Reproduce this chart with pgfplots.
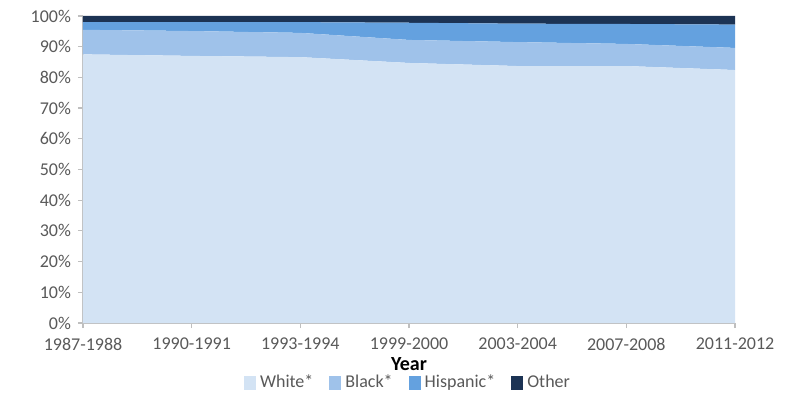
\documentclass[border=0pt]{standalone}
\usepackage{pgfplots}
\pgfplotsset{compat=1.18}
\usepackage{fontspec}
\setmainfont{Carlito}
\definecolor{cwhite}{HTML}{D3E3F4}
\definecolor{cblack}{HTML}{9FC2EA}
\definecolor{chisp}{HTML}{64A1DF}
\definecolor{cother}{HTML}{1C3354}
\definecolor{tickgray}{HTML}{595959}
\definecolor{axgray}{HTML}{BFBFBF}
\begin{document}
\begin{tikzpicture}
\begin{axis}[
  name=ax,
  scale only axis,
  width=326pt, height=153.5pt,
  xmin=0, xmax=6, ymin=0, ymax=100,
  stack plots=y,
  axis lines*=left,
  axis line style={axgray, line width=0.6pt},
  tick style={axgray, line width=0.6pt},
  tick align=outside,
  major tick length=2.5pt,
  xtick={0,...,6},
  xticklabels={1987-1988,1990-1991,1993-1994,1999-2000,2003-2004,2007-2008,2011-2012},
  ytick={0,10,...,100},
  yticklabel={\pgfmathprintnumber{\tick}\%},
  /pgf/number format/assume math mode=true,
  ticklabel style={font=\fontsize{9}{11}\selectfont, text=tickgray},
  xticklabel style={yshift=-1.5pt},
  xlabel={\textbf{Year}},
  xlabel style={font=\fontsize{10}{12}\selectfont, at={(0.5,-0.133)}, anchor=center},
  legend columns=4,
  legend style={draw=none, fill=none, at={(0.5,-0.195)}, anchor=center, font=\fontsize{9}{11}\selectfont, text=tickgray,
    inner sep=0pt, /tikz/every even column/.append style={column sep=6pt}},
  legend image code/.code={\fill[#1] (0pt,-3.5pt) rectangle (6pt,3.5pt);},
]
\addplot[fill=cwhite, draw=none] coordinates {(0,87.5) (1,87.0) (2,86.6) (3,84.7) (4,83.7) (5,83.7) (6,82.4)} \closedcycle;
\addplot[fill=cblack, draw=none] coordinates {(0,8.0) (1,8.1) (2,7.9) (3,7.5) (4,7.8) (5,7.2) (6,7.2)} \closedcycle;
\addplot[fill=chisp, draw=none] coordinates {(0,2.5) (1,2.9) (2,3.5) (3,5.6) (4,6.0) (5,6.5) (6,7.6)} \closedcycle;
\addplot[fill=cother, draw=none] coordinates {(0,2.0) (1,2.0) (2,2.0) (3,2.2) (4,2.5) (5,2.6) (6,2.8)} \closedcycle;
\legend{White*, Black*, Hispanic*, Other}
\end{axis}
\pgfresetboundingbox
\path[use as bounding box] ([xshift=-41.5pt,yshift=-36pt]ax.south west) rectangle ([xshift=32.5pt,yshift=8pt]ax.north east);
\end{tikzpicture}
\end{document}
